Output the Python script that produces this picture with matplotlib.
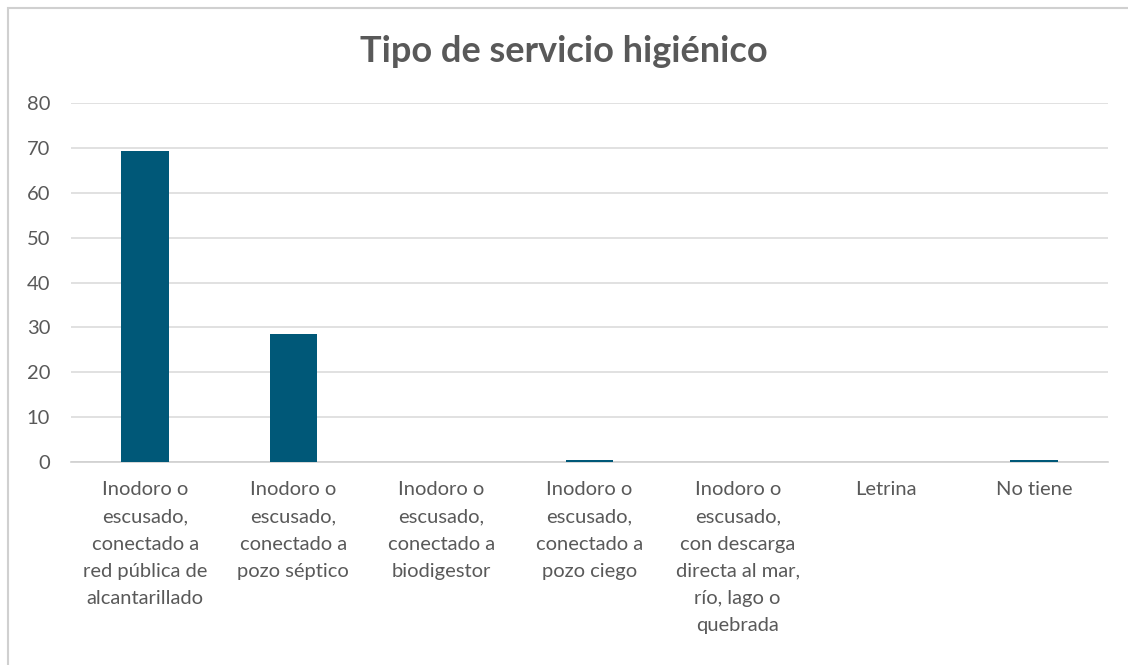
import matplotlib.pyplot as plt
from matplotlib.patches import Rectangle

# Categories and share of dwellings per toilet type
categories = [
    "Inodoro o\nescusado,\nconectado a\nred pública de\nalcantarillado",
    "Inodoro o\nescusado,\nconectado a\npozo séptico",
    "Inodoro o\nescusado,\nconectado a\nbiodigestor",
    "Inodoro o\nescusado,\nconectado a\npozo ciego",
    "Inodoro o\nescusado,\ncon descarga\ndirecta al mar,\nrío, lago o\nquebrada",
    "Letrina",
    "No tiene",
]
values = [69.2, 28.5, 0.0, 0.5, 0.0, 0.0, 0.5]
yticks = [0, 10, 20, 30, 40, 50, 60, 70, 80]

plt.rcParams['font.family'] = ['Lato', 'DejaVu Sans']

fig = plt.figure(figsize=(11.28, 6.65), dpi=100)
fig.patch.set_facecolor('white')

# thin outer frame of the chart
fig.patches.append(Rectangle((8 / 1128, -0.01), 1.2, 1 - 8 / 665 + 0.01,
                             transform=fig.transFigure, fill=False,
                             edgecolor='#d0d0d0', linewidth=1.5))

ax = fig.add_axes([71 / 1128, 1 - 462 / 665, (1108 - 71) / 1128, (462 - 103) / 665])
x = range(len(categories))
ax.bar(x, values, width=0.32, color='#005878', zorder=3)

ax.set_ylim(0, 80)
ax.set_xlim(-0.5, len(categories) - 0.5)
ax.set_yticks(yticks)
ax.set_yticklabels([str(t) for t in yticks])
ax.set_xticks(list(x))
ax.set_xticklabels(categories, linespacing=1.72)

ax.grid(axis='y', color='#d9d9d9', linewidth=1.1, zorder=0)
for s in ['top', 'right', 'left']:
    ax.spines[s].set_visible(False)
ax.spines['bottom'].set_color('#d0d0d0')
ax.spines['bottom'].set_linewidth(1.2)
ax.tick_params(axis='both', length=0, colors='#595959')
ax.tick_params(axis='x', pad=14, labelsize=14.5)
ax.tick_params(axis='y', pad=15, labelsize=14.5)

fig.text(0.5, 1 - 52 / 665, 'Tipo de servicio higiénico', ha='center', va='center',
         fontsize=26, fontweight='bold', color='#595959')

fig.savefig('out.png', dpi=100)
